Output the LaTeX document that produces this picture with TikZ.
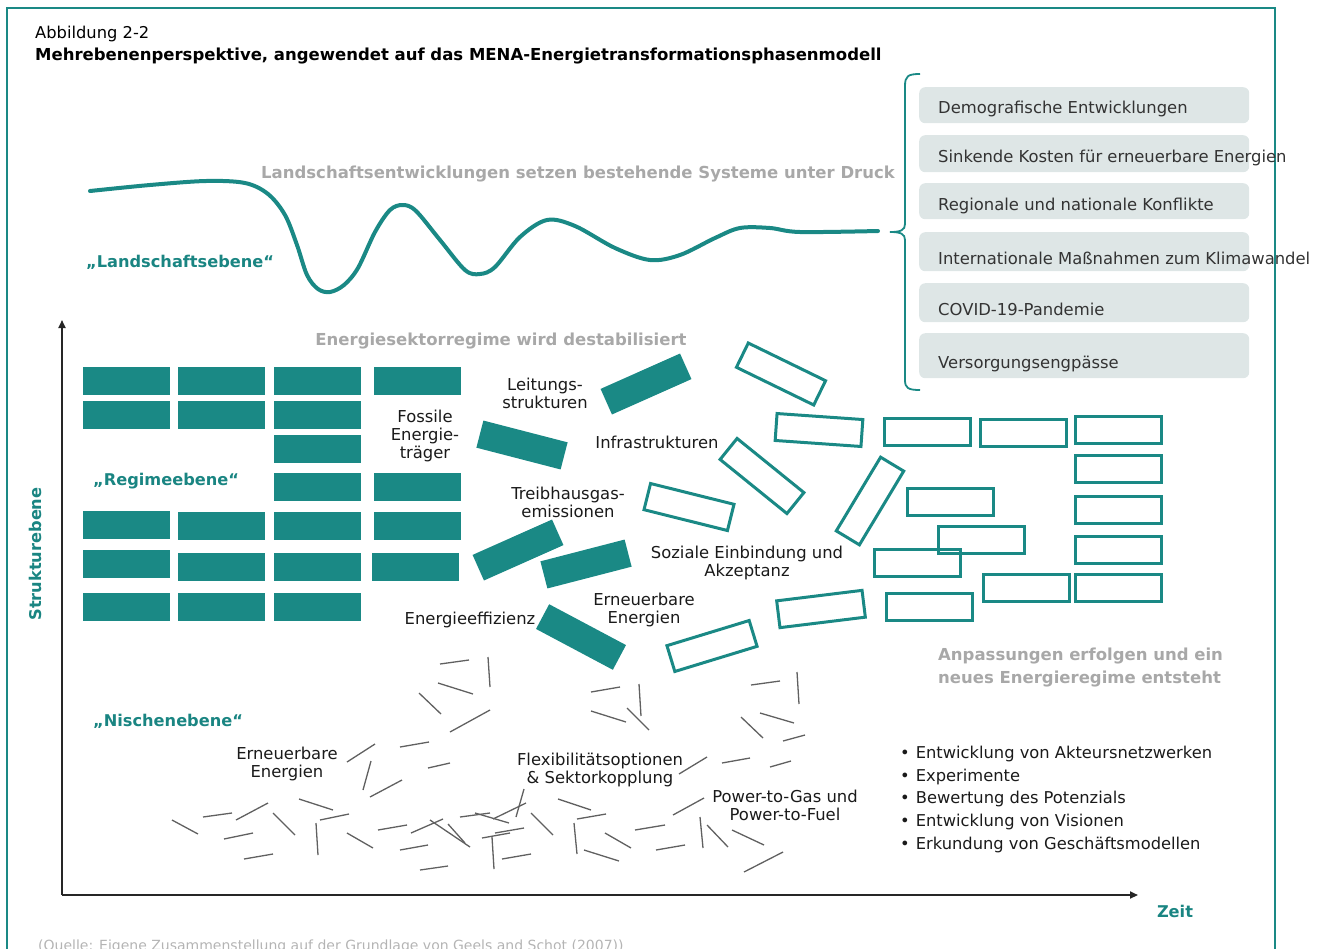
\documentclass[tikz,border=0pt]{standalone}
\usepackage{fontspec}
\setmainfont{DejaVu Sans}
\usetikzlibrary{arrows.meta}
\definecolor{tealA}{HTML}{1A8985}
\definecolor{tealT}{HTML}{1A8582}
\definecolor{boxfill}{HTML}{DEE6E6}
\definecolor{grayhead}{HTML}{A8A8A8}
\definecolor{nichegray}{HTML}{606060}
\definecolor{txtdark}{HTML}{1A1A1A}
\definecolor{boxtxt}{HTML}{333333}
\definecolor{srcgray}{HTML}{B4B4B4}
\newcommand\fsTitle{\fontsize{16.3}{18}\selectfont}
\newcommand\fsTitleB{\fontsize{16.5}{18}\selectfont\bfseries}
\newcommand\fsHead{\fontsize{16.5}{18}\selectfont\bfseries}
\newcommand\fsLevel{\fontsize{16.2}{18}\selectfont\bfseries}
\newcommand\fsLab{\fontsize{16.4}{18}\selectfont}
\newcommand\fsBul{\fontsize{16.3}{18}\selectfont}
\newcommand\fsBox{\fontsize{16.4}{18}\selectfont}
\newcommand\fsSrc{\fontsize{14}{16}\selectfont}
\begin{document}
\begin{tikzpicture}[x=1pt,y=-1pt,
  fillblk/.style={fill=tealA,draw=none,minimum width=87pt,minimum height=28pt,inner sep=0pt},
  gridblk/.style={fillblk,anchor=north west},
  openblk/.style={draw=tealA,line width=3pt,minimum width=86pt,minimum height=27pt,inner sep=0pt},
  uprblk/.style={openblk,anchor=north west,minimum width=86pt,minimum height=27pt},
  lab/.style={font=\fsLab,text=txtdark,align=center,inner sep=0pt},
  level/.style={font=\fsLevel,text=tealT,inner sep=0pt},
  head/.style={font=\fsHead,text=grayhead,inner sep=0pt},
  greybox/.style={fill=boxfill,rounded corners=6pt,anchor=north west,minimum width=330pt,inner sep=0pt},
  boxtext/.style={font=\fsBox,text=boxtxt,anchor=base west,inner sep=0pt},
  bul/.style={font=\fsBul,text=txtdark,anchor=west,inner sep=0pt},
  nline/.style={draw=nichegray,line width=1.3pt},
  axis/.style={draw=black!85,line width=1.8pt,-{Triangle[length=8pt,width=7pt]}},
  curve/.style={draw=tealA,line width=4pt,line cap=round},
  brace/.style={draw=tealA,line width=1.8pt}
]
\useasboundingbox (0,0) rectangle (1321,948);
% frame
\draw[tealA,line width=1.5pt] (7,8) rectangle (1275,970);
% title
\node[font=\fsTitle,anchor=base west,inner sep=0pt] (t1) at (35,38) {Abbildung 2-2};
\node[font=\fsTitleB,anchor=base west,inner sep=0pt] (t2) at (35,60) {Mehrebenenperspektive, angewendet auf das MENA-Energietransformationsphasenmodell};
% landscape
\node[head,anchor=base west] (h1) at (261,178) {Landschaftsentwicklungen setzen bestehende Systeme unter Druck};
\draw[curve] plot[smooth,tension=0.55] coordinates {(90,191) (150,185) (206,181) (245,183) (268,194) (285,215) (297,245) (307,275) (318,289) (330,292) (344,285) (358,268) (375,232) (390,210) (403,205) (416,211) (440,240) (465,270) (480,274) (495,267) (520,237) (547,220) (575,226) (615,248) (650,260) (680,255) (715,238) (740,228) (770,228) (800,232) (878,231)};
\node[level,anchor=west] (lv1) at (86,262) {„Landschaftsebene“};
% brace
\draw[brace] (920,74) .. controls (908,74) and (905,76) .. (905,86) -- (905,224) .. controls (905,230) and (901,232) .. (890,232) .. controls (901,232) and (905,234) .. (905,240) -- (905,380) .. controls (905,388) and (908,390) .. (920,390);
% grey boxes
\node[greybox,minimum height=36pt] (g1) at (919,87) {};
\node[greybox,minimum height=37pt] (g2) at (919,135) {};
\node[greybox,minimum height=36pt] (g3) at (919,183) {};
\node[greybox,minimum height=39pt] (g4) at (919,232) {};
\node[greybox,minimum height=39pt] (g5) at (919,283) {};
\node[greybox,minimum height=45pt] (g6) at (919,333) {};
\node[boxtext] (gt1) at (938,113) {Demografische Entwicklungen};
\node[boxtext] (gt2) at (938,162) {Sinkende Kosten für erneuerbare Energien};
\node[boxtext] (gt3) at (938,210) {Regionale und nationale Konflikte};
\node[boxtext] (gt4) at (938,264) {Internationale Maßnahmen zum Klimawandel};
\node[boxtext] (gt5) at (938,315) {COVID-19-Pandemie};
\node[boxtext] (gt6) at (938,368) {Versorgungsengpässe};
% axes
\coordinate (orig) at (62,895);
\coordinate (ytop) at (62,320);
\coordinate (xend) at (1138,895);
\draw[axis] (orig) -- (ytop);
\draw[axis] (orig) -- (xend);
\node[level,rotate=90] (lv0) at (35,554) {Strukturebene};
\node[level] (zeit) at (1175,911) {Zeit};
% regime heading
\node[head] (h2) at (501,341) {Energiesektorregime wird destabilisiert};
% regime grid
\node[gridblk] (r11) at (83,367) {};
\node[gridblk] (r12) at (178,367) {};
\node[gridblk] (r13) at (274,367) {};
\node[gridblk] (r14) at (374,367) {};
\node[gridblk] (r21) at (83,401) {};
\node[gridblk] (r22) at (178,401) {};
\node[gridblk] (r23) at (274,401) {};
\node[gridblk] (r33) at (274,435) {};
\node[gridblk] (r43) at (274,473) {};
\node[gridblk] (r44) at (374,473) {};
\node[gridblk] (r51) at (83,511) {};
\node[gridblk] (r52) at (178,512) {};
\node[gridblk] (r53) at (274,512) {};
\node[gridblk] (r54) at (374,512) {};
\node[gridblk] (r61) at (83,550) {};
\node[gridblk] (r62) at (178,553) {};
\node[gridblk] (r63) at (274,553) {};
\node[gridblk] (r64) at (372,553) {};
\node[gridblk] (r71) at (83,593) {};
\node[gridblk] (r72) at (178,593) {};
\node[gridblk] (r73) at (274,593) {};
\node[level,anchor=west] (lv2) at (93,481) {„Regimeebene“};
% rotated filled blocks
\node[fillblk,rotate=24] (fa) at (646,384) {};
\node[fillblk,rotate=-14.5] (fb) at (522,445) {};
\node[fillblk,rotate=24] (fc) at (518,550) {};
\node[fillblk,rotate=14.5] (fd) at (586,564) {};
\node[fillblk,rotate=-28] (fe) at (581,637) {};
% rotated open blocks
\node[openblk,rotate=-26] (oa) at (781,374) {};
\node[openblk,rotate=-39] (ob) at (762,476) {};
\node[openblk,rotate=-14] (oc) at (689,507) {};
\node[openblk,rotate=59] (od) at (870,501) {};
\node[openblk,rotate=17] (oe) at (712,646) {};
\node[openblk,rotate=7] (of) at (821,609) {};
\node[openblk,rotate=-4] (og) at (819,430) {};
% upright open blocks
\node[uprblk] (u1) at (883,417) {};
\node[uprblk] (u2) at (979,418) {};
\node[uprblk] (u3) at (1074,415) {};
\node[uprblk] (u4) at (1074,454) {};
\node[uprblk] (u5) at (906,487) {};
\node[uprblk] (u6) at (1074,495) {};
\node[uprblk] (u7) at (937,525) {};
\node[uprblk] (u8) at (1074,535) {};
\node[uprblk] (u9) at (873,548) {};
\node[uprblk] (u10) at (982,573) {};
\node[uprblk] (u11) at (1074,573) {};
\node[uprblk] (u12) at (885,592) {};
% regime labels
\node[lab] (l1) at (545,393) {Leitungs-\\strukturen};
\node[lab] (l2) at (425,436) {Fossile\\Energie-\\träger};
\node[lab] (l3) at (657,442) {Infrastrukturen};
\node[lab] (l4) at (568,502) {Treibhausgas-\\emissionen};
\node[lab] (l5) at (747,563) {Soziale Einbindung und\\Akzeptanz};
\node[lab] (l6) at (644,610) {Erneuerbare\\Energien};
\node[lab] (l7) at (470,620) {Energieeffizienz};
% new regime heading
\node[head,anchor=base west,align=left] (h3) at (938,660) {Anpassungen erfolgen und ein};
\node[head,anchor=base west,align=left] (h4) at (938,683) {neues Energieregime entsteht};
% niche
\node[level,anchor=west] (lv3) at (93,721) {„Nischenebene“};
\node[lab] (n1) at (287,764) {Erneuerbare\\Energien};
\node[lab] (n2) at (600,770) {Flexibilitätsoptionen\\\& Sektorkopplung};
\node[lab] (n3) at (785,805) {Power-to-Gas und\\Power-to-Fuel};
\foreach \ax/\ay/\bx/\by in {
440/664/469/660, 488/657/490/687, 438/683/473/694, 419/693/441/714, 450/732/490/710,
400/747/429/742, 347/762/375/744, 371/761/363/790, 428/768/450/763, 370/797/402/780,
299/799/333/810, 268/803/236/820, 203/817/232/813, 172/820/198/834, 273/813/295/835,
320/820/349/814, 316/823/318/855, 224/839/253/833, 347/833/373/848, 378/830/407/825,
411/833/443/819, 430/820/470/847, 448/824/465/843, 460/817/490/813, 475/813/509/823,
493/819/526/803, 516/817/524/789, 531/813/553/835, 482/838/510/833, 495/833/524/828,
492/837/494/869, 502/859/531/854, 400/850/428/845, 420/870/448/866, 244/859/273/854,
591/692/620/687, 639/684/641/716, 591/711/626/722, 627/708/649/730,
751/685/780/681, 797/672/799/704, 760/713/794/723, 741/717/763/738, 783/741/805/735,
722/763/750/758, 770/767/791/761, 679/774/707/757,
558/799/591/810, 577/819/606/814, 574/823/577/854, 673/815/704/798, 635/830/665/825,
605/833/631/848, 584/850/619/861, 656/850/685/845, 700/817/703/848, 707/825/728/847,
732/830/764/845, 744/872/783/852}
  \draw[nline] (\ax,\ay) -- (\bx,\by);
% bullets
\node[bul] (b1) at (900,754) {•\hspace{6pt}Entwicklung von Akteursnetzwerken};
\node[bul] (b2) at (900,777) {•\hspace{6pt}Experimente};
\node[bul] (b3) at (900,799) {•\hspace{6pt}Bewertung des Potenzials};
\node[bul] (b4) at (900,822) {•\hspace{6pt}Entwicklung von Visionen};
\node[bul] (b5) at (900,845) {•\hspace{6pt}Erkundung von Geschäftsmodellen};
% source
\node[font=\fsSrc,text=srcgray,anchor=base west,inner sep=0pt] (src) at (38,950) {(Quelle: Eigene Zusammenstellung auf der Grundlage von Geels and Schot (2007))};
\end{tikzpicture}
\end{document}
